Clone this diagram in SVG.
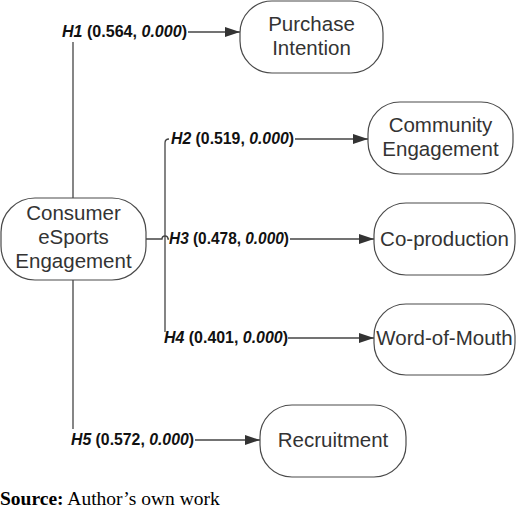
<svg xmlns="http://www.w3.org/2000/svg" width="520" height="509" viewBox="0 0 520 509">
<style>
.node rect{fill:#fff;stroke:#4a4a4a;stroke-width:1.2}
.node text{font-family:"Liberation Sans",Arial,sans-serif;font-size:20.5px;fill:#333;text-anchor:middle}
.lbl{font-family:"Liberation Sans",Arial,sans-serif;font-size:16px;font-weight:bold;fill:#111}
.it{font-style:italic}
.conn path{fill:none;stroke:#444;stroke-width:1.3}
</style>
<defs>
<marker id="ah" markerWidth="15" markerHeight="10" refX="15" refY="5" orient="auto" markerUnits="userSpaceOnUse">
<path d="M0,0 L15,5 L0,10 Z" fill="#333"/>
</marker>
</defs>
<rect width="520" height="509" fill="#fff"/>
<g class="conn">
<path d="M73,42 V198"/>
<path d="M73,280 V429"/>
<path d="M188,32 H240" marker-end="url(#ah)"/>
<path d="M146,239 H162 A3,3 0 0 1 168,239 H169"/>
<path d="M165,332 V143 Q165,139 169,139"/>
<path d="M295,139 H368" marker-end="url(#ah)"/>
<path d="M290,239 H374" marker-end="url(#ah)"/>
<path d="M288,338 H374" marker-end="url(#ah)"/>
<path d="M195,440 H260" marker-end="url(#ah)"/>
</g>
<g id="consumer" class="node">
<rect x="1" y="198" width="145" height="82" rx="34" ry="34"/>
<text x="73.5" y="220">Consumer</text>
<text x="73.5" y="244">eSports</text>
<text x="73.5" y="268">Engagement</text>
</g>
<g id="purchase" class="node">
<rect x="240" y="1" width="143" height="72" rx="32" ry="32"/>
<text x="311.5" y="31">Purchase</text>
<text x="311.5" y="55">Intention</text>
</g>
<g id="community" class="node">
<rect x="368" y="102" width="145" height="72" rx="32" ry="32"/>
<text x="440.5" y="132">Community</text>
<text x="440.5" y="156">Engagement</text>
</g>
<g id="coproduction" class="node">
<rect x="374" y="203" width="141" height="72" rx="32" ry="32"/>
<text x="444.5" y="246">Co-production</text>
</g>
<g id="wom" class="node">
<rect x="374" y="304" width="141" height="71" rx="32" ry="32"/>
<text x="444.5" y="345">Word-of-Mouth</text>
</g>
<g id="recruitment" class="node">
<rect x="260" y="405" width="146" height="72" rx="32" ry="32"/>
<text x="333" y="447">Recruitment</text>
</g>
<g id="labels">
<text class="lbl" x="62" y="37" textLength="125" lengthAdjust="spacingAndGlyphs"><tspan class="it">H1</tspan> (0.564, <tspan class="it">0.000</tspan>)</text>
<text class="lbl" x="171" y="144" textLength="123" lengthAdjust="spacingAndGlyphs"><tspan class="it">H2</tspan> (0.519, <tspan class="it">0.000</tspan>)</text>
<text class="lbl" x="169" y="244" textLength="120" lengthAdjust="spacingAndGlyphs"><tspan class="it">H3</tspan> (0.478, <tspan class="it">0.000</tspan>)</text>
<text class="lbl" x="164" y="343" textLength="124" lengthAdjust="spacingAndGlyphs"><tspan class="it">H4</tspan> (0.401, <tspan class="it">0.000</tspan>)</text>
<text class="lbl" x="71" y="445" textLength="123" lengthAdjust="spacingAndGlyphs"><tspan class="it">H5</tspan> (0.572, <tspan class="it">0.000</tspan>)</text>
</g>
<text x="0" y="505" font-family="'Liberation Serif','Times New Roman',serif" font-size="19.5" fill="#000"><tspan font-weight="bold">Source:</tspan> Author’s own work</text>
</svg>
